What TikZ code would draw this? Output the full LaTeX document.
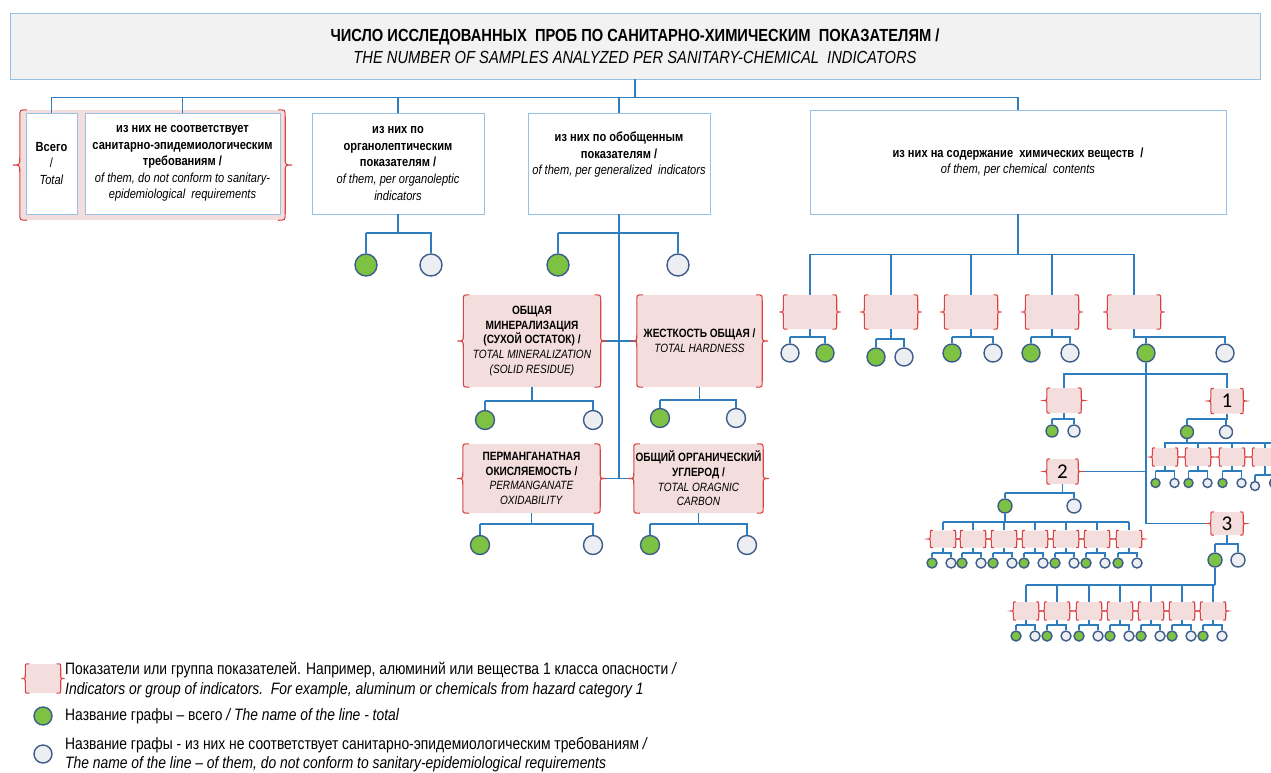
\documentclass[tikz,border=0pt]{standalone}
\usepackage{fontspec}
\setmainfont{Liberation Sans}[FakeStretch=0.84]
\newfontfamily\numfont{Carlito}
\definecolor{lblue}{RGB}{46,125,190}
\definecolor{bbord}{RGB}{150,192,228}
\definecolor{hfill}{RGB}{242,242,242}
\definecolor{pinkf}{RGB}{243,221,221}
\definecolor{bred}{RGB}{218,68,68}
\definecolor{gfill}{RGB}{125,194,66}
\definecolor{wfill}{RGB}{236,238,242}
\definecolor{cbord}{RGB}{62,92,138}
\newcommand\brc[2][3]{%
\draw[brace] ([xshift=#1pt]#2.north west) .. controls (#2.north west) .. ([yshift=-#1pt]#2.north west) -- ([yshift=#1pt]#2.west) .. controls (#2.west) .. ([xshift=-#1pt]#2.west) .. controls (#2.west) .. ([yshift=-#1pt]#2.west) -- ([yshift=#1pt]#2.south west) .. controls (#2.south west) .. ([xshift=#1pt]#2.south west);
\draw[brace] ([xshift=-#1pt]#2.north east) .. controls (#2.north east) .. ([yshift=-#1pt]#2.north east) -- ([yshift=#1pt]#2.east) .. controls (#2.east) .. ([xshift=#1pt]#2.east) .. controls (#2.east) .. ([yshift=-#1pt]#2.east) -- ([yshift=#1pt]#2.south east) .. controls (#2.south east) .. ([xshift=-#1pt]#2.south east);}
\newcommand\mkfork[4]{%
\draw[ln] (#1.south) |- (#2.north |- 0,#4) -- (#3.north |- 0,#4) -- (#3.north);
\draw[ln] (#2.north) -- (#2.north |- 0,#4);}
\begin{document}
\begin{tikzpicture}[x=1pt,y=-1pt,
 box/.style={draw=bbord, line width=0.9pt, fill=white, inner sep=0pt, align=center, font=\fontsize{13.2}{16.6}\selectfont},
 ind/.style={fill=pinkf, inner sep=0pt, align=center, rounded corners=2pt},
 indt/.style={ind, font=\fontsize{12}{14.6}\selectfont},
 num/.style={ind, font=\numfont\fontsize{21}{21}\selectfont},
 brace/.style={draw=bred, line width=1.1pt},
 ln/.style={draw=lblue, line width=1.3pt},
 trunk/.style={draw=lblue, line width=1.9pt},
 gc/.style={circle, draw=cbord, line width=1.4pt, fill=gfill, inner sep=0pt},
 wc/.style={circle, draw=cbord, line width=1.4pt, fill=wfill, inner sep=0pt},
 lg/.style={anchor=west, align=left, inner sep=0pt, font=\fontsize{16.5}{19.5}\selectfont}
]
\useasboundingbox (0,0) rectangle (1271,772);
\fill[white] (0,0) rectangle (1271,772);
\clip (0,0) rectangle (1271,772);

% header
\node[draw=bbord, fill=hfill, line width=0.9pt, minimum width=1250pt, minimum height=66pt, inner sep=0pt, align=center, font=\fontsize{17.5}{22.5}\selectfont] (hdr) at (635,46)
 {\textbf{ЧИСЛО ИССЛЕДОВАННЫХ\ \ ПРОБ ПО САНИТАРНО-ХИМИЧЕСКИМ\ \ ПОКАЗАТЕЛЯМ /}\\\textit{THE NUMBER OF SAMPLES ANALYZED PER SANITARY-CHEMICAL\ \ INDICATORS}};

% first level
\node[ind, minimum width=265pt, minimum height=110pt] (grp) at (152.5,165) {};
\brc[7]{grp}
\node[box, minimum width=51pt, minimum height=101pt] (tot) at (51.5,163.5) {\textbf{Всего}\\/\\\textit{Total}};
\node[box, minimum width=195pt, minimum height=101pt] (nc) at (182.5,163.5)
 {\textbf{из них\ не соответствует}\\\textbf{санитарно-эпидемиологическим}\\\textbf{требованиям /}\\\textit{of them, do not conform to sanitary-}\\\textit{epidemiological\ \ requirements}};
\node[box, minimum width=172pt, minimum height=101pt] (org) at (398,163.5)
 {\textbf{из них\ по}\\\textbf{органолептическим}\\\textbf{показателям /}\\\textit{of them, per organoleptic}\\\textit{indicators}};
\node[box, minimum width=182pt, minimum height=101pt] (gen) at (619,163.5)
 {\textbf{из них по обобщенным}\\\textbf{показателям /}\\\textit{of them, per generalized\ \ indicators}\\[4pt]\mbox{}};
\node[box, minimum width=416pt, minimum height=104pt] (chem) at (1018,162)
 {\textbf{из них\ на содержание\ \ химических веществ\ \ /}\\\textit{of them, per chemical\ \ contents}};

\path (hdr.south) ++(0,18) coordinate (bus);
\draw[trunk] (hdr.south) -- (bus);
\draw[ln] (tot.north) -- (tot.north |- bus) -- (chem.north |- bus) -- (chem.north);
\foreach \n in {nc,org,gen} \draw[ln] (\n.north) -- (\n.north |- bus);

% organoleptic
\node[gc, minimum size=22pt] (og) at (366,265) {};
\node[wc, minimum size=22pt] (ow) at (431,265) {};
\mkfork{org}{og}{ow}{233}

% generalized
\node[indt, minimum width=137pt, minimum height=92pt] (mine) at (532,341)
 {\textbf{ОБЩАЯ}\\\textbf{МИНЕРАЛИЗАЦИЯ}\\\textbf{(СУХОЙ ОСТАТОК) /}\\\textit{TOTAL MINERALIZATION}\\\textit{(SOLID RESIDUE)}};
\node[indt, minimum width=125pt, minimum height=92pt] (hard) at (699.5,341)
 {\textbf{ЖЕСТКОСТЬ ОБЩАЯ /}\\\textit{TOTAL HARDNESS}};
\node[indt, minimum width=137pt, minimum height=69pt] (perm) at (531.5,478.5)
 {\textbf{ПЕРМАНГАНАТНАЯ}\\\textbf{ОКИСЛЯЕМОСТЬ /}\\\textit{PERMANGANATE}\\\textit{OXIDABILITY}};
\node[indt, minimum width=129pt, minimum height=69pt] (carb) at (698.5,478.5)
 {\textbf{ОБЩИЙ ОРГАНИЧЕСКИЙ}\\\textbf{УГЛЕРОД /}\\\textit{TOTAL ORAGNIC}\\\textit{CARBON}};
\draw[trunk] (gen.south) -- (gen.south |- perm.east);
\draw[ln] (mine.east) -- (hard.west);
\draw[ln] (perm.east) -- (carb.west);
\foreach \n in {mine,hard,perm,carb} {\brc[6]{\n}}

\node[gc, minimum size=22pt] (gg) at (558,265) {};
\node[wc, minimum size=22pt] (gw) at (678,265) {};
\mkfork{gen}{gg}{gw}{233}

\node[gc, minimum size=19pt] (mg) at (485,420) {};
\node[wc, minimum size=19pt] (mw) at (593,420) {};
\mkfork{mine}{mg}{mw}{401}
\node[gc, minimum size=19pt] (hg) at (660,418) {};
\node[wc, minimum size=19pt] (hw) at (736,418) {};
\mkfork{hard}{hg}{hw}{400}
\node[gc, minimum size=19pt] (pg) at (480,545) {};
\node[wc, minimum size=19pt] (pw) at (593,545) {};
\mkfork{perm}{pg}{pw}{524}
\node[gc, minimum size=19pt] (cg) at (650,545) {};
\node[wc, minimum size=19pt] (cw) at (747,545) {};
\mkfork{carb}{cg}{cw}{524}

% chemical contents
\path (chem.south) ++(0,40) coordinate (cbus);
\draw[trunk] (chem.south) -- (cbus);
\foreach \c [count=\i] in {810,891,971,1052,1134} {\node[ind, minimum width=53pt, minimum height=34pt] (i\i) at (\c,312) {}; \brc[4]{i\i}}
\draw[ln] (i1.north) -- (i1.north |- cbus) -- (i5.north |- cbus) -- (i5.north);
\foreach \i in {2,3,4} \draw[ln] (i\i.north) -- (i\i.north |- cbus);

\node[wc, minimum size=18pt] (iw1) at (790,353) {};
\node[gc, minimum size=18pt] (ig1) at (825,353) {};
\mkfork{i1}{iw1}{ig1}{337}
\node[gc, minimum size=18pt] (ig2) at (876,357) {};
\node[wc, minimum size=18pt] (iw2) at (904,357) {};
\mkfork{i2}{ig2}{iw2}{339}
\node[gc, minimum size=18pt] (ig3) at (952,353) {};
\node[wc, minimum size=18pt] (iw3) at (993,353) {};
\mkfork{i3}{ig3}{iw3}{337}
\node[gc, minimum size=18pt] (ig4) at (1031,353) {};
\node[wc, minimum size=18pt] (iw4) at (1070,353) {};
\mkfork{i4}{ig4}{iw4}{337}
\node[gc, minimum size=18pt] (ig5) at (1146,353) {};
\node[wc, minimum size=18pt] (iw5) at (1225,353) {};
\mkfork{i5}{ig5}{iw5}{337}

% level 2
\node[ind, minimum width=34pt, minimum height=25pt] (s0) at (1064,400.5) {};
\node[num, minimum width=32pt, minimum height=25pt] (b1) at (1227,401) {1};
\node[num, minimum width=31pt, minimum height=25pt] (b2) at (1062.5,471.5) {2};
\node[num, minimum width=32pt, minimum height=23pt] (b3) at (1227,523.5) {3};
\draw[ln] (ig5.south) -- (ig5.south |- b3.west) -- (b3.west);
\draw[ln] (s0.north) -- (s0.north |- 0,374) -- (b1.north |- 0,374) -- (b1.north);
\draw[ln] (b2.east) -- (b2.east -| ig5);
\foreach \n in {s0,b1,b2,b3} {\brc[3]{\n}}

\node[gc, minimum size=12pt] (sg) at (1052,431) {};
\node[wc, minimum size=12pt] (sw) at (1074,431) {};
\mkfork{s0}{sg}{sw}{419}
\node[gc, minimum size=13pt] (bg1) at (1187,432) {};
\node[wc, minimum size=13pt] (bw1) at (1226,432) {};
\mkfork{b1}{bg1}{bw1}{419}
\node[gc, minimum size=14pt] (bg2) at (1005,506) {};
\node[wc, minimum size=14pt] (bw2) at (1074,506) {};
\mkfork{b2}{bg2}{bw2}{493}
\node[gc, minimum size=14pt] (bg3) at (1215,560) {};
\node[wc, minimum size=14pt] (bw3) at (1238,560) {};
\mkfork{b3}{bg3}{bw3}{544}

% children of 1
\foreach \c [count=\i] in {1165,1198,1232,1265} {\node[ind, minimum width=25pt, minimum height=18pt] (c\i) at (\c,457) {}; \brc[2.5]{c\i}}
\draw[ln] (bg1.south) -- (bg1.south |- 0,443);
\draw[ln] (c1.north) -- (c1.north |- 0,443) -- (c4.north |- 0,443) -- ++(12,0);
\foreach \i in {1,2,3,4} \draw[ln] (c\i.north) -- (c\i.north |- 0,443);
\foreach \c [count=\i] in {1165,1198,1232} {
 \node[gc, minimum size=9pt] (cg\i) at (\c-9.5,483) {};
 \node[wc, minimum size=9pt] (cw\i) at (\c+9.5,483) {};
 \mkfork{c\i}{cg\i}{cw\i}{471}}
\node[wc, minimum size=9pt] (cw4) at (1255,486) {};
\node[gc, minimum size=9pt] (cg4) at (1274,483) {};
\mkfork{c4}{cw4}{cg4}{475}

% children of 2
\draw[ln] (bg2.south) -- (bg2.south |- 0,522);
\foreach \c [count=\i] in {943,973,1004,1035,1066,1097,1129} {
 \node[ind, minimum width=25pt, minimum height=17pt] (d\i) at (\c,539) {};
 \brc[2.5]{d\i}
 \draw[ln] (d\i.north) -- (d\i.north |- 0,522);
 \node[gc, minimum size=10pt] (dg\i) at (\c-11,563) {};
 \node[wc, minimum size=10pt] (dw\i) at (\c+8,563) {};
 \mkfork{d\i}{dg\i}{dw\i}{553}}
\draw[ln] (d1.north |- 0,522) -- (d7.north |- 0,522);

% children of 3
\draw[ln] (bg3.south) -- (bg3.south |- 0,585);
\foreach \c [count=\i] in {1026,1057,1089,1120,1151,1182,1213} {
 \node[ind, minimum width=25pt, minimum height=18pt] (e\i) at (\c,611) {};
 \brc[2.5]{e\i}
 \draw[ln] (e\i.north) -- (e\i.north |- 0,585);
 \node[gc, minimum size=10pt] (eg\i) at (\c-10,636) {};
 \node[wc, minimum size=10pt] (ew\i) at (\c+9,636) {};
 \mkfork{e\i}{eg\i}{ew\i}{625}}
\draw[ln] (e1.north |- 0,585) -- (bg3.south |- 0,585);

% legend
\node[ind, minimum width=35pt, minimum height=29pt] (lgb) at (43,678.5) {};
\brc[4]{lgb}
\node[lg] (lt1) at (65,680) {Показатели или группа показателей. Например, алюминий или вещества 1 класса опасности \textit{/}\\\textit{Indicators or group of indicators.\ \ For example, aluminum or chemicals from hazard category 1}};
\node[gc, minimum size=18pt] (lgg) at (43,716) {};
\node[lg] (lt2) at (65,716) {Название графы – всего \textit{/ The name of the line - total}};
\node[wc, minimum size=18pt] (lgw) at (43,754) {};
\node[lg] (lt3) at (65,754.5) {Название графы - из них не соответствует санитарно-эпидемиологическим требованиям \textit{/}\\\textit{The name of the line – of them, do not conform to sanitary-epidemiological requirements}};
\end{tikzpicture}
\end{document}
